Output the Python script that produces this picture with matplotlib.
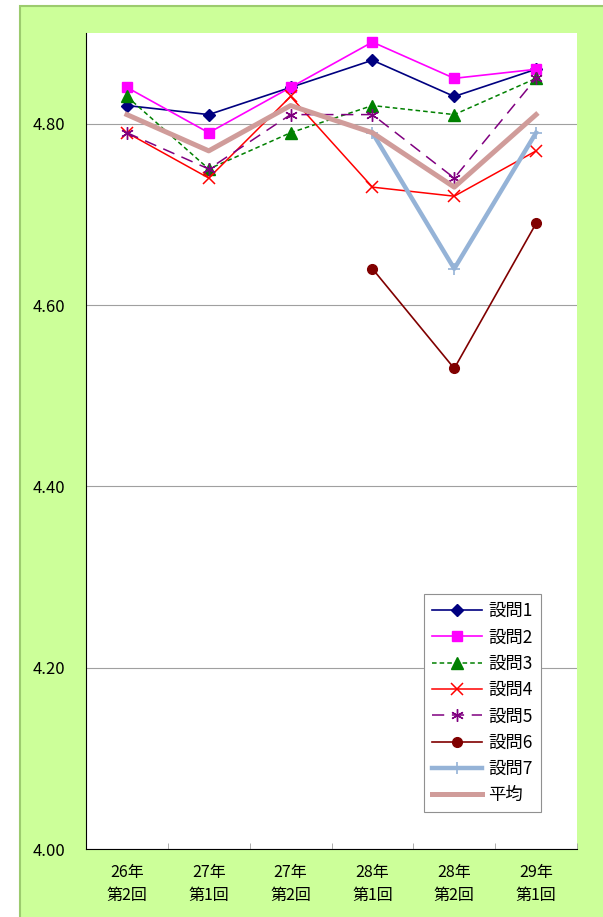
import numpy as np
import matplotlib
matplotlib.use("Agg")
import matplotlib.pyplot as plt
from matplotlib.patches import Rectangle
from matplotlib.ticker import MultipleLocator, FormatStrFormatter

plt.rcParams['font.family'] = ['Noto Sans CJK JP', 'DejaVu Sans']

# データ
categories = ["26年\n第2回", "27年\n第1回", "27年\n第2回", "28年\n第1回", "28年\n第2回", "29年\n第1回"]
q1 = [4.82, 4.81, 4.84, 4.87, 4.83, 4.86]
q2 = [4.84, 4.79, 4.84, 4.89, 4.85, 4.86]
q3 = [4.83, 4.75, 4.79, 4.82, 4.81, 4.85]
q4 = [4.79, 4.74, 4.83, 4.73, 4.72, 4.77]
q5 = [4.79, 4.75, 4.81, 4.81, 4.74, 4.85]
q6 = [np.nan, np.nan, np.nan, 4.64, 4.53, 4.69]
q7 = [np.nan, np.nan, np.nan, 4.79, 4.64, 4.79]
avg = [4.81, 4.77, 4.82, 4.79, 4.73, 4.81]

fig = plt.figure(figsize=(6.03, 9.17), dpi=100)
W, H = 603, 917

# 背景(緑の枠) 右と下は画像の外まで
bg = Rectangle((20 / W, -0.05), 1.05, 1.05 - 6 / H, transform=fig.transFigure,
               facecolor="#CCFF99", edgecolor="#9CCB6E", linewidth=1.5, zorder=-10)
fig.add_artist(bg)

ax = fig.add_axes([86 / W, (H - 849) / H, (577 - 86) / W, (849 - 33) / H])
ax.set_facecolor("white")

x = np.arange(len(categories))

ax.plot(x, q1, color="#000080", lw=1.2, marker="D", ms=6, label="設問1")
ax.plot(x, q2, color="#FF00FF", lw=1.2, marker="s", ms=7.5, label="設問2")
ax.plot(x, q3, color="#008000", lw=1.1, ls=(0, (3, 2)), marker="^", ms=8, label="設問3")
ax.plot(x, q4, color="#FF0000", lw=1.1, marker="x", ms=8, mew=1.1, label="設問4")
ax.plot(x, q5, color="#800080", lw=1.1, ls=(0, (8, 5)), marker=(6, 2, 0), ms=9, mew=1.0, label="設問5")
ax.plot(x, q6, color="#800000", lw=1.2, marker="o", ms=7, label="設問6")
ax.plot(x, q7, color="#95B3D7", lw=3.2, marker="+", ms=9, mew=1.2, label="設問7")
ax.plot(x, avg, color="#D09C9A", lw=3.6, label="平均")

ax.set_xlim(-0.5, len(categories) - 0.5)
ax.set_ylim(4.0, 4.9)
ax.yaxis.set_major_locator(MultipleLocator(0.2))
ax.yaxis.set_major_formatter(FormatStrFormatter("%.2f"))
ax.grid(axis="y", color="#A0A0A0", lw=0.8)
ax.set_axisbelow(True)

ax.set_xticks(x)
ax.set_xticklabels(categories, fontsize=11.5, linespacing=1.45)
ax.set_xticks(np.arange(-0.5, len(categories)), minor=True)
ax.tick_params(axis="x", which="major", length=0, pad=11)
ax.tick_params(axis="x", which="minor", direction="in", length=4, color="#A0A0A0")
ax.tick_params(axis="y", length=0, pad=15, labelsize=12)

for side in ["top", "right"]:
    ax.spines[side].set_visible(False)
ax.spines["left"].set_color("black")
ax.spines["bottom"].set_color("black")

leg = ax.legend(loc="lower right", bbox_to_anchor=(0.926, 0.045), fontsize=12.5, fancybox=False,
                edgecolor="#909090", framealpha=1, handlelength=2.9, labelspacing=0.48,
                borderpad=0.45, handletextpad=0.35, borderaxespad=0)
leg.get_frame().set_linewidth(0.8)

fig.savefig("out.png", dpi=100)
